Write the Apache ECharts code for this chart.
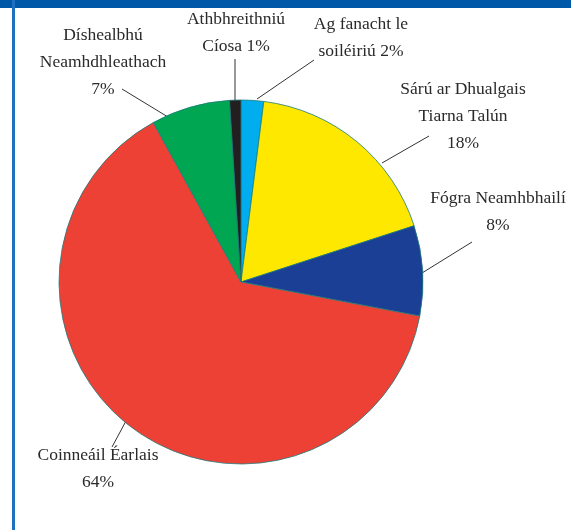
<!DOCTYPE html>
<html>
<head>
<meta charset="utf-8">
<script src="https://cdn.jsdelivr.net/npm/echarts@6/dist/echarts.min.js"></script>
<style>
  html, body { margin: 0; padding: 0; background: #fff; }
  #main { width: 571px; height: 530px; }
</style>
</head>
<body>
<div id="main"></div>
<script>
// slices, clockwise from 12 o'clock
const names = ['Ag fanacht le\nsoiléiriú', 'Sárú ar Dhualgais\nTiarna Talún', 'Fógra Neamhbhailí', 'Coinneáil Éarlais', 'Díshealbhú\nNeamhdhleathach', 'Athbhreithniú\nCíosa'];
const values = [2, 18, 8, 64, 7, 1];
const separators = [' ', '\n', '\n', '\n', '\n', ' '];
const colors = ['#00AEEF', '#FFE800', '#1B3F95', '#EE4136', '#00A651', '#231F20'];

// where each label sits and where its leader line runs
const labelSpots = [
    { x: 361, y: 38, from: [257, 99], to: [314, 60] },
    { x: 463, y: 116, from: [382, 163], to: [429, 136] },
    { x: 498, y: 212, from: [422, 273], to: [472, 242] },
    { x: 98, y: 469, from: [126, 421], to: [112, 447] },
    { x: 103, y: 62, from: [122, 89], to: [168, 117] },
    { x: 236, y: 33, from: [235, 101], to: [235, 59] }
];

const myChart = echarts.init(document.getElementById('main'));

const option = {
    animation: false,
    graphic: [
        { type: 'rect', shape: { x: 0, y: 0, width: 571, height: 8 }, style: { fill: '#0059A8' } },
        { type: 'rect', shape: { x: 12, y: 0, width: 3, height: 530 }, style: { fill: '#1F70C1' } }
    ],
    series: [
        {
            type: 'pie',
            center: [241, 282],
            radius: 182,
            startAngle: 90,
            clockwise: true,
            avoidLabelOverlap: false,
            itemStyle: {
                borderColor: '#1E7B7B',
                borderWidth: 0.8
            },
            label: {
                show: true,
                position: 'outside',
                fontFamily: 'Liberation Serif',
                fontSize: 17.5,
                lineHeight: 27,
                color: '#2a2a2a',
                align: 'center',
                formatter: function (p) {
                    return p.name + separators[p.dataIndex] + p.value + '%';
                }
            },
            labelLine: {
                show: true,
                lineStyle: { color: '#333', width: 1 }
            },
            labelLayout: function (params) {
                const s = labelSpots[params.dataIndex];
                return {
                    x: s.x,
                    y: s.y,
                    align: 'center',
                    verticalAlign: 'middle',
                    labelLinePoints: [s.from, s.to, s.to]
                };
            },
            data: names.map(function (n, i) {
                return { name: n, value: values[i], itemStyle: { color: colors[i] } };
            })
        }
    ]
};

option && myChart.setOption(option);
</script>
</body>
</html>
